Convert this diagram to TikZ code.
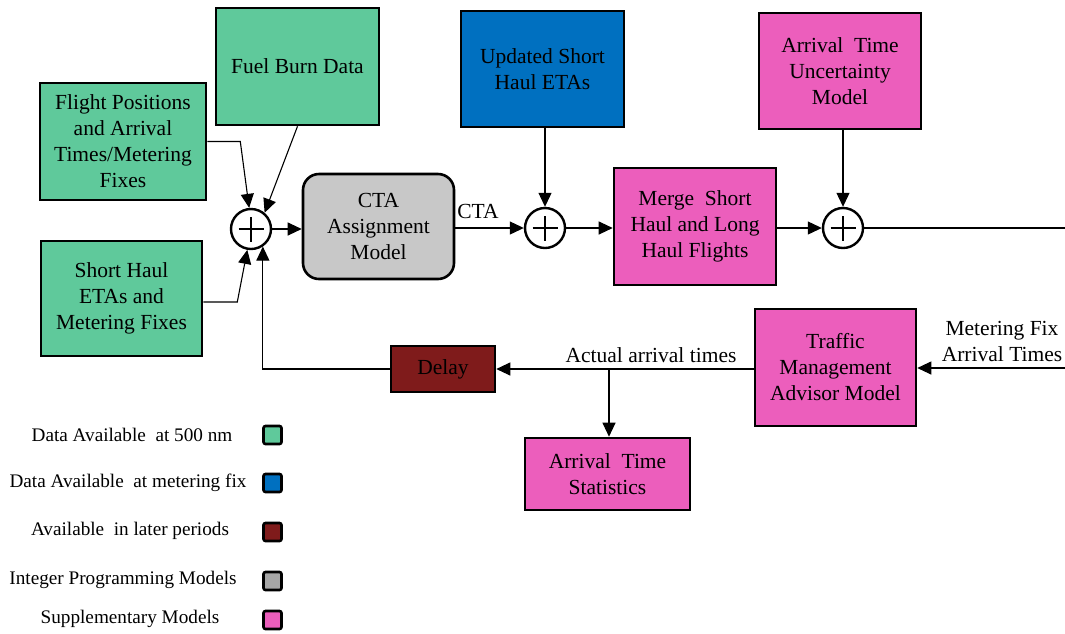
\documentclass[tikz,border=0pt]{standalone}
\usepackage{fontspec}
\setmainfont{Liberation Serif}
\usetikzlibrary{arrows.meta,calc}

\definecolor{dataGreen}{RGB}{95,201,155}
\definecolor{dataBlue}{RGB}{0,112,192}
\definecolor{laterRed}{RGB}{127,27,27}
\definecolor{ipGrey}{RGB}{200,200,200}
\definecolor{ipGreyKey}{RGB}{166,166,166}
\definecolor{suppPink}{RGB}{236,94,188}

\begin{document}
\begin{tikzpicture}[x=1pt,y=-1pt,
  font=\fontsize{21.5}{26}\selectfont,
  block/.style={draw=black, line width=2.6pt, rectangle, inner sep=0pt, align=center},
  sz/.style 2 args={minimum width=#1, minimum height=#2},
  junction/.style={circle, draw=black, line width=2.4pt, fill=white, minimum size=40, inner sep=0pt,
    path picture={
      \draw[line width=2.4pt]
        ([xshift=-12.5pt]path picture bounding box.center) -- ([xshift=12.5pt]path picture bounding box.center)
        ([yshift=-12.5pt]path picture bounding box.center) -- ([yshift=12.5pt]path picture bounding box.center);
    }},
  conn/.style={line width=1.1pt, draw=black, -{Triangle[length=14pt,width=13pt]}},
  plainline/.style={line width=1.1pt, draw=black},
  keysq/.style={draw=black, line width=2.6pt, rounded corners=2pt, minimum size=18, inner sep=0pt},
  keytext/.style={font=\fontsize{19.2}{23}\selectfont, inner sep=0pt}
]
\useasboundingbox (0,0) rectangle (1065,633);

% ---------- inputs ----------
\node[block, sz={166}{117}, fill=dataGreen] (fpos) at (123,141.5)
  {Flight Positions\\and Arrival\\Times/Metering\\Fixes};
\node[block, sz={163}{117}, fill=dataGreen] (fuel) at (297.5,66.5) {Fuel Burn Data};
\node[block, sz={161}{115}, fill=dataGreen] (sh) at (121.5,298.5)
  {Short Haul\\ETAs and\\Metering Fixes};
\node[block, sz={163}{116}, fill=dataBlue] (upd) at (542.5,69) {Updated Short\\Haul ETAs};
\node[block, sz={162}{116}, fill=suppPink] (atum) at (840,71)
  {Arrival\ \ Time\\Uncertainty\\Model};

% ---------- main chain ----------
\node[junction] (sum1) at (251,229) {};
\node[block, sz={151}{105}, fill=ipGrey, rounded corners=16pt] (cta) at (378.5,226.5)
  {CTA\\Assignment\\Model};
\node[junction] (sum2) at (545,228) {};
\node[block, sz={162}{117}, fill=suppPink] (merge) at (695,226.5)
  {Merge\ \ Short\\Haul and Long\\Haul Flights};
\node[junction] (sum3) at (843,228) {};

% ---------- feedback row ----------
\node[block, sz={161}{117}, fill=suppPink] (tma) at (835.5,367.5)
  {Traffic\\Management\\Advisor Model};
\node[block, sz={104}{46}, fill=laterRed] (delay) at (443,369) {Delay};
\node[block, sz={165}{72}, fill=suppPink] (ats) at (607.5,474)
  {Arrival\ \ Time\\Statistics};

\coordinate (outR) at (1065,228);
\coordinate (inR) at (1065,368);
\coordinate (br) at (609,369);

% ---------- labels ----------
\node (ctalbl) at (478,211) {CTA};
\node (actlbl) at (651,355) {Actual arrival times};
\node[align=center] (mflbl) at (1002,341) {Metering Fix\\Arrival Times};

% ---------- connectors ----------
\draw[conn] (fpos.east) -- ++(33,0) -- (sum1.95);
\draw[conn] (fuel.south) -- (sum1.50);
\draw[conn] ($(sh.east)+(0,3.5)$) -- ++(34,0) -- (sum1.-100);
\draw[conn] (delay.west) -- (delay.west -| sum1.-56) -- (sum1.-56);
\draw[conn] (sum1.east) -- (sum1.east -| cta.west);
\draw[conn] (cta.east |- sum2) -- (sum2.west);
\draw[conn] (sum2.north |- upd.south) -- (sum2.north);
\draw[conn] (sum2.east) -- (sum2.east -| merge.west);
\draw[conn] (merge.east |- sum3) -- (sum3.west);
\draw[conn] (sum3.north |- atum.south) -- (sum3.north);
\draw[plainline] (sum3.east) -- (outR);
\draw[conn] (inR) -- (inR -| tma.east);
\draw[conn] (tma.west |- delay) -- (delay.east);
\draw[conn] (br) -- (br |- ats.north);

% ---------- key ----------
\node[keytext] (k1) at (132,435) {Data Available\ \ at 500 nm};
\node[keytext] (k2) at (128,483) {Data Available\ \ at metering fix};
\node[keytext] (k3) at (130,531) {Available\ \ in later periods};
\node[keytext] (k4) at (123,580) {Integer Programming Models};
\node[keytext] (k5) at (130,619) {Supplementary Models};

\node[keysq, fill=dataGreen] (s1) at (272.5,435) {};
\node[keysq, fill=dataBlue] (s2) at (272.5,483) {};
\node[keysq, fill=laterRed] (s3) at (272.5,532) {};
\node[keysq, fill=ipGreyKey] (s4) at (272.5,581) {};
\node[keysq, fill=suppPink] (s5) at (272.5,620) {};
\end{tikzpicture}
\end{document}
